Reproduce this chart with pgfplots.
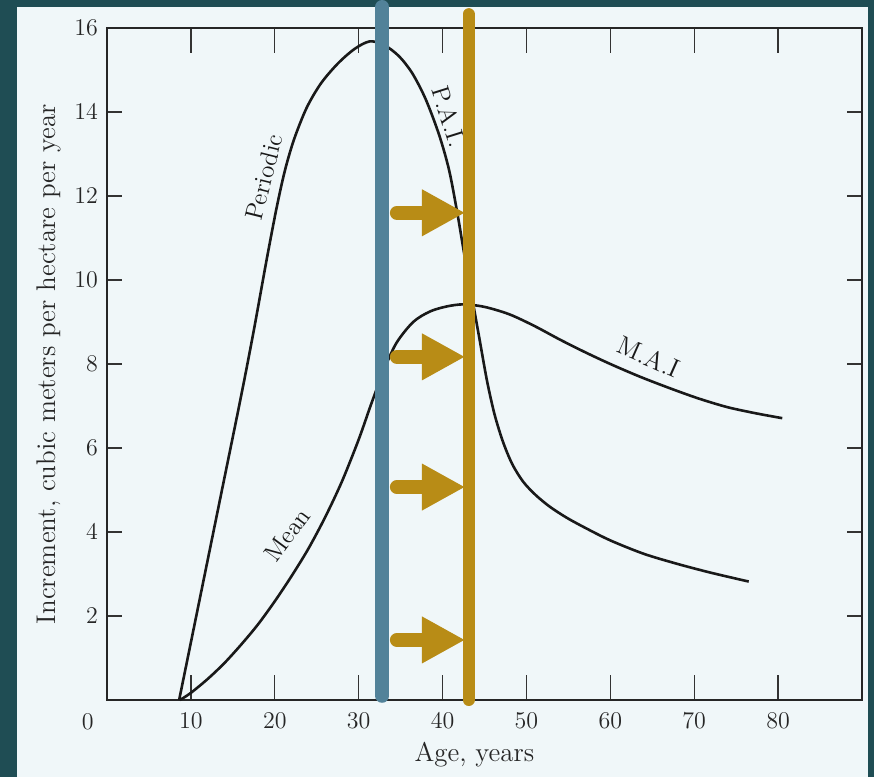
\documentclass[border=0pt]{standalone}
\usepackage{pgfplots}
\pgfplotsset{compat=1.18}
\definecolor{frame}{RGB}{31,77,84}
\definecolor{paper}{RGB}{240,247,249}
\definecolor{bluebar}{RGB}{82,130,153}
\definecolor{gold}{RGB}{184,140,22}
\begin{document}
\begin{tikzpicture}
\fill[frame] (-53.5pt,-38.5pt) rectangle (383.5pt,350pt);
\fill[paper] (-45pt,-38.5pt) rectangle (380.5pt,346.5pt);
\begin{axis}[
  at={(0,0)}, anchor=origin,
  scale only axis, width=377.5pt, height=336pt,
  xmin=0, xmax=90, ymin=0, ymax=16,
  clip=false,
  axis line style={line width=1pt, black!85},
  tick align=inside, tick pos=both,
  xticklabel pos=bottom, yticklabel pos=left,
  xtick={10,20,...,80}, ytick={2,4,...,16},
  xtick style={/pgfplots/major tick length=12.5pt, line width=0.7pt, black!80},
  ytick style={/pgfplots/major tick length=7.5pt, line width=0.7pt, black!80},
  tick label style={font=\fontsize{12}{14}\selectfont, text=black!85},
  xticklabel style={yshift=-3pt},
  yticklabel style={xshift=-1pt},
  xlabel={Age, years},
  ylabel={Increment, cubic meters per hectare per year},
  label style={font=\fontsize{13.5}{16}\selectfont, text=black!85},
  xlabel style={xshift=-5pt},
]
\addplot[smooth, line width=1.3pt, black!90, mark=none] coordinates {
(8.6,0) (11,2.35) (13.5,4.8) (16,7.25) (17.5,8.8) (19,10.45) (20.2,11.7)
(21.2,12.6) (22.3,13.35) (23.8,14.1) (25.5,14.68) (27.5,15.15) (29.5,15.5)
(31.3,15.68) (33,15.6) (34.8,15.33) (36.4,14.92) (38,14.3) (39.6,13.45)
(40.8,12.6) (41.8,11.55) (42.6,10.6) (43.5,9.6) (44.4,8.6) (45.3,7.6)
(46.2,6.8) (47.2,6.15) (48.3,5.62) (49.6,5.2) (51.1,4.88) (52.8,4.6)
(54.8,4.34) (57,4.1) (60,3.8) (64,3.48) (68,3.24) (72,3.03) (76.5,2.82)
};
\addplot[smooth, line width=1.3pt, black!90, mark=none] coordinates {
(8.7,0) (10,0.17) (12,0.5) (14,0.88) (16,1.32) (18,1.8) (20,2.35) (22,2.95)
(24,3.6) (26,4.35) (28,5.2) (30,6.2) (31.5,7.05) (33,7.85) (34.5,8.5)
(36.5,9.0) (38.5,9.25) (40.5,9.37) (42.5,9.42) (45,9.36) (48,9.18) (51,8.9)
(54,8.58) (57,8.28) (60,8.0) (63.5,7.7) (67,7.43) (70.5,7.18) (74,6.97)
(77.5,6.82) (80.5,6.71)
};
\node[font=\fontsize{12}{14}\selectfont, text=black!85] at (axis cs:-2.3,-0.52) {0};
\node[rotate=76, font=\fontsize{12.5}{15}\selectfont, text=black!90] at (axis cs:18.7,12.45) {Periodic};
\node[rotate=53.5, font=\fontsize{12.5}{15}\selectfont, text=black!90] at (axis cs:21.5,3.93) {Mean};
\node[rotate=-72.6, font=\fontsize{12.5}{15}\selectfont, text=black!90] at (axis cs:40.8,13.9) {P.A.I.};
\node[rotate=-24, font=\fontsize{13}{15}\selectfont, text=black!90] at (axis cs:64.6,8.17) {M.A.I};
% overlays
\draw[bluebar, line width=7pt, line cap=round] (axis cs:32.8,0.1) -- (axis cs:32.8,16.5);
\draw[gold, line width=6pt, line cap=round] (axis cs:43.1,0) -- (axis cs:43.1,16.33);
\draw[gold, line width=7pt, line cap=round] (axis cs:34.56,11.6) -- (axis cs:38,11.6);
\fill[gold] (axis cs:37.55,12.16) -- (axis cs:42.6,11.6) -- (axis cs:37.55,11.04) -- cycle;
\draw[gold, line width=7pt, line cap=round] (axis cs:34.56,8.17) -- (axis cs:38,8.17);
\fill[gold] (axis cs:37.55,8.73) -- (axis cs:42.6,8.17) -- (axis cs:37.55,7.61) -- cycle;
\draw[gold, line width=7pt, line cap=round] (axis cs:34.56,5.07) -- (axis cs:38,5.07);
\fill[gold] (axis cs:37.55,5.63) -- (axis cs:42.6,5.07) -- (axis cs:37.55,4.51) -- cycle;
\draw[gold, line width=7pt, line cap=round] (axis cs:34.56,1.43) -- (axis cs:38,1.43);
\fill[gold] (axis cs:37.55,1.99) -- (axis cs:42.6,1.43) -- (axis cs:37.55,0.87) -- cycle;
\end{axis}
\pgfresetboundingbox
\path[use as bounding box] (-53.5pt,-38.5pt) rectangle (383.5pt,350pt);
\end{tikzpicture}
\end{document}
